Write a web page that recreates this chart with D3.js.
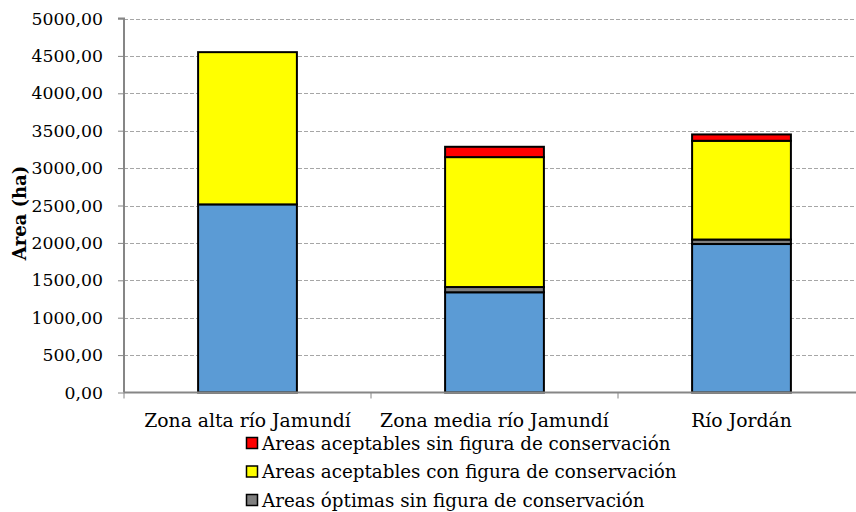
<!DOCTYPE html>
<html><head><meta charset="utf-8">
<script src="https://cdn.jsdelivr.net/npm/d3@7"></script>
<style>
body{margin:0;background:#fff;}
text{font-family:"DejaVu Serif",serif;}
</style></head>
<body><svg id="c" width="856" height="512"></svg>
<script>
const categories = ["Zona alta río Jamundí","Zona media río Jamundí","Río Jordán"];
const seriesNames = ["Areas óptimas con figura de conservación","Areas óptimas sin figura de conservación","Areas aceptables con figura de conservación","Areas aceptables sin figura de conservación"];
const seriesColors = ["#5B9BD5","#7F7F7F","#FFFF00","#FF0000"];
const optimasCon = [2515,1340,1985];
const optimasSin = [0,70,60];
const aceptablesCon = [2035,1737,1320];
const aceptablesSin = [0,138,85];
const yTicks = [0,500,1000,1500,2000,2500,3000,3500,4000,4500,5000];
const legendShown = [3,2,1];

const svg = d3.select("#c");
const x0 = 124, yBase = 392.5, yTop = 18.5;
const x = d3.scaleBand().domain(categories).range([x0, x0 + 247*3]).paddingInner(0).paddingOuter(0);
const y = d3.scaleLinear().domain([0,5000]).range([yBase, yTop]);

const rows = categories.map((c,i)=>({cat:c, s0:optimasCon[i], s1:optimasSin[i], s2:aceptablesCon[i], s3:aceptablesSin[i]}));
const stack = d3.stack().keys(["s0","s1","s2","s3"])(rows);

// gridlines
svg.append("g").selectAll("line").data(yTicks.slice(1)).join("line")
  .attr("x1", x0).attr("x2", 856).attr("y1", d=>Math.round(y(d))+0.5).attr("y2", d=>Math.round(y(d))+0.5)
  .attr("stroke","#A6A6A6").attr("stroke-width",1).attr("stroke-dasharray","4,2");

// bars
const bw = x.bandwidth()/2.5;
stack.forEach((layer,li)=>{
  svg.append("g").selectAll("rect").data(layer).join("rect")
    .attr("x", d=>x(d.data.cat)+x.bandwidth()/2-bw/2)
    .attr("width", bw)
    .attr("y", d=>y(d[1]))
    .attr("height", d=>Math.max(0,y(d[0])-y(d[1])))
    .attr("fill", seriesColors[li])
    .attr("stroke","#000").attr("stroke-width", d=>(d[1]-d[0])>0?2:0);
});

// y axis
const yAxis = d3.axisLeft(y).tickValues(yTicks).tickSize(6).tickPadding(15)
  .tickFormat(d=>d3.format(".2f")(d).replace(".",","));
const gy = svg.append("g").attr("transform",`translate(${x0},0)`).call(yAxis);
gy.select(".domain").attr("stroke","#868686").attr("stroke-width",2).attr("d",`M-6,${yTop}H0V${yBase}`);
gy.selectAll(".tick line").attr("stroke","#868686");
gy.selectAll(".tick text").attr("font-size",17.3).attr("fill","#000").attr("font-family","DejaVu Serif");

// x axis
const gx = svg.append("g").attr("transform",`translate(0,${yBase})`);
gx.append("line").attr("x1",x0).attr("x2",856).attr("y1",0).attr("y2",0).attr("stroke","#868686").attr("stroke-width",2);
gx.selectAll("line.t").data(categories).join("line").attr("class","t")
  .attr("x1",d=>x(d)).attr("x2",d=>x(d)).attr("y1",0).attr("y2",6).attr("stroke","#868686");
gx.selectAll("text").data(categories).join("text")
  .attr("x",d=>x(d)+x.bandwidth()/2).attr("y",34).attr("text-anchor","middle")
  .attr("font-size",18.8).text(d=>d);

// y title
svg.append("text").attr("transform","translate(26,213) rotate(-90)").attr("text-anchor","middle")
  .attr("font-size",18).attr("font-weight","bold").text("Area (ha)");

// legend
const lg = svg.append("g");
legendShown.forEach((si,i)=>{
  const yy = 443 + i*28.5;
  lg.append("rect").attr("x",246.5).attr("y",yy-5.5).attr("width",11).attr("height",11)
    .attr("fill",seriesColors[si]).attr("stroke","#000").attr("stroke-width",1.5);
  lg.append("text").attr("x",262).attr("y",yy+6.5).attr("font-size",18.3).text(seriesNames[si]);
});
</script></body></html>
